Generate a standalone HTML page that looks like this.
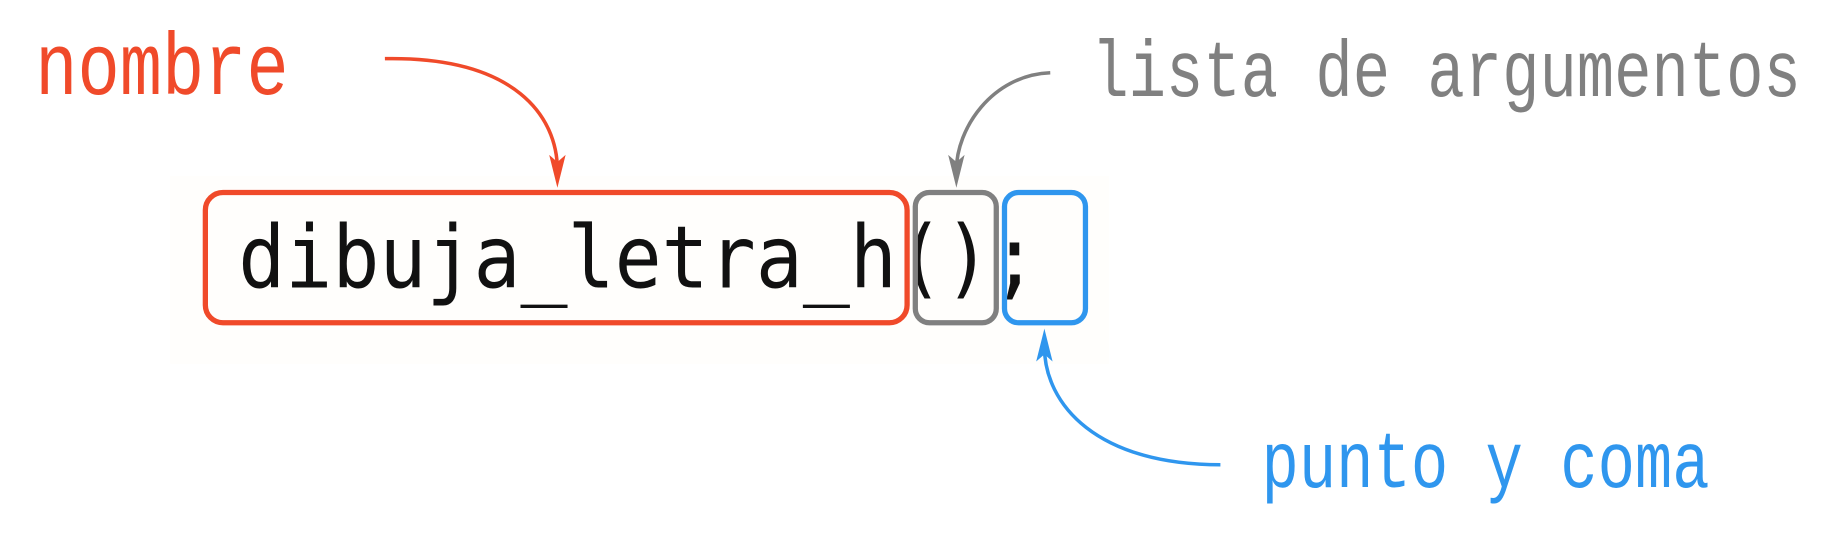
<!DOCTYPE html>
<html><head><meta charset="utf-8"><style>
html,body{margin:0;padding:0;background:#fff;}
svg{display:block;}
</style></head><body>
<svg width="1840" height="543" viewBox="0 0 1568 462.7" preserveAspectRatio="none" xmlns="http://www.w3.org/2000/svg">
<rect x="145" y="150" width="800" height="160" fill="#fffefc"/>
<text transform="translate(30,80) scale(0.8,1)" font-family="Liberation Mono, monospace" font-size="75" fill="#f04a2a">nombre</text>
<text transform="translate(930,82) scale(0.78,1)" font-family="Liberation Mono, monospace" font-size="68" fill="#808080">lista de argumentos</text>
<text transform="translate(1075,415) scale(0.78,1)" font-family="Liberation Mono, monospace" font-size="68" fill="#2f96ee">punto y coma</text>
<text transform="translate(203,245) scale(0.9,1)" font-family="DejaVu Sans Mono, monospace" font-size="74" fill="#111">dibuja_letra_h();</text>
<rect x="175" y="164" width="598" height="111" rx="15" fill="none" stroke="#f04a2a" stroke-width="4.5"/>
<rect x="780" y="164" width="69" height="111" rx="12" fill="none" stroke="#808080" stroke-width="4.5"/>
<rect x="856" y="164" width="69" height="111" rx="12" fill="none" stroke="#2f96ee" stroke-width="4.5"/>
<path d="M328,50 C440,48 475,100 475,145" fill="none" stroke="#f04a2a" stroke-width="3"/>
<path d="M468,132 L475,160 L482,132 L475,138 Z" fill="#f04a2a"/>
<path d="M895,62 C845,64 815,110 815,145" fill="none" stroke="#808080" stroke-width="3"/>
<path d="M808,132 L815,160 L822,132 L815,138 Z" fill="#808080"/>
<path d="M1040,396 C935,396 890,345 890,295" fill="none" stroke="#2f96ee" stroke-width="3"/>
<path d="M883,308 L890,280 L897,308 L890,302 Z" fill="#2f96ee"/>
</svg>
</body></html>
